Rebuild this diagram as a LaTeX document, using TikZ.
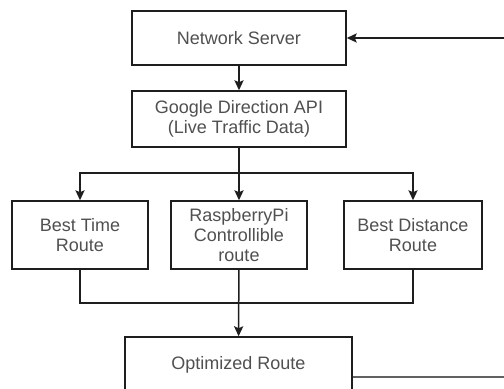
\documentclass[tikz,border=0pt]{standalone}
\usepackage{fontspec}
\setmainfont{Liberation Sans}
\usetikzlibrary{arrows.meta,positioning,calc}
\definecolor{flowline}{RGB}{30,30,30}
\definecolor{flowtext}{RGB}{80,80,80}
\tikzset{
  flow box/.style={
    draw=flowline,
    line width=0.75pt,
    fill=white,
    inner sep=0pt,
    align=center,
    text=flowtext,
    font=\fontsize{9}{10.2}\selectfont,
  },
  flow arrow/.style={
    -{Stealth[length=5pt,width=4.6pt,inset=1pt]},
    line width=0.75pt,
    draw=flowline,
  },
  flow line/.style={
    line width=0.75pt,
    draw=flowline,
  },
}

\begin{document}
\begin{tikzpicture}[x=0.5pt,y=-0.5pt]
  \path[use as bounding box, clip] (0,0) rectangle (504,389);

  \node[flow box, minimum width=107pt, minimum height=27pt] (server) at (239,38)
    {Network Server};
  \node[flow box, minimum width=107pt, minimum height=28pt] (directions) at (239,119)
    {Google Direction API\\(Live Traffic Data)};

  \node[flow box, minimum width=68pt, minimum height=34pt] (besttime) at (80,235)
    {Best Time\\Route};
  \node[flow box, minimum width=68pt, minimum height=34pt] (raspi) at (239,235)
    {RaspberryPi\\Controllible\\route};
  \node[flow box, minimum width=69pt, minimum height=34pt] (bestdist) at (413,235)
    {Best Distance\\Route};

  \node[flow box, minimum width=113.5pt, minimum height=28pt] (optimized) at (238.5,365)
    {Optimized Route};

  \coordinate (split) at (239,173);
  \coordinate (merge) at (239,303);
  \coordinate (loopout) at (504,377);
  \coordinate (loopin) at (504,38);

  % down to the three routes
  \draw[flow arrow] (server) -- (directions);
  \draw[flow arrow] (directions) -- (raspi);
  \draw[flow arrow] (split) -| (besttime.north);
  \draw[flow arrow] (split) -| (bestdist.north);

  % back together
  \draw[flow line] (besttime.south) |- (merge) -| (bestdist.south);
  \draw[flow arrow] (raspi) -- (optimized);

  % feedback loop
  \draw[flow line, draw=flowline!70] (loopout -| optimized.east) -- (loopout);
  \draw[flow arrow] (loopin) -- (server.east);
\end{tikzpicture}
\end{document}
